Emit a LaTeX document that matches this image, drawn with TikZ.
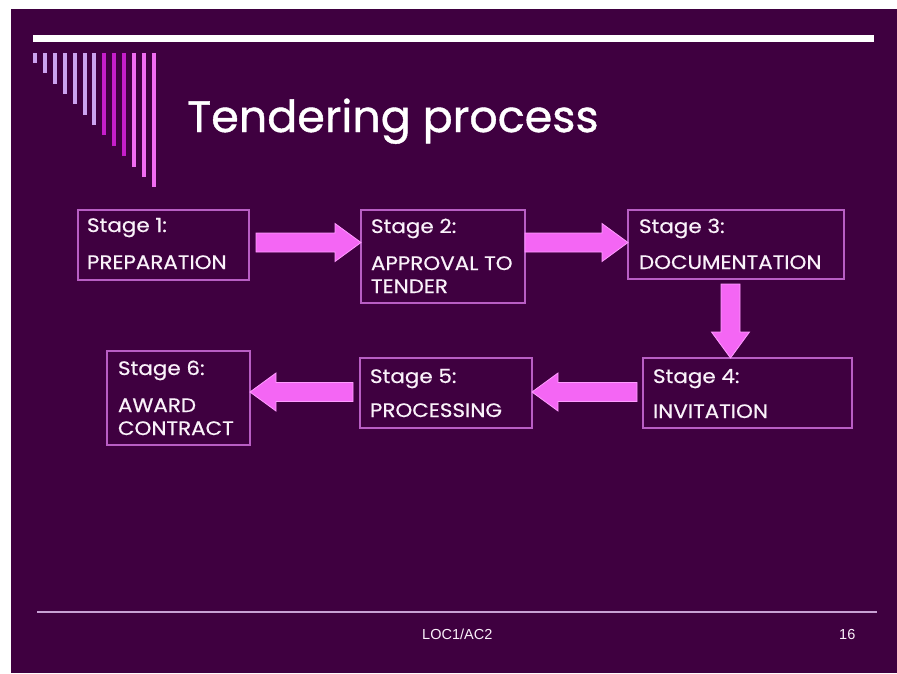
\documentclass[tikz,border=0pt]{standalone}
\usepackage{fontspec}
\usepackage{graphicx}
\setmainfont{Poppins}
\newfontfamily\boxfont{Poppins}[FakeBold=0.5]
\newfontfamily\titlefont{Poppins}[FakeBold=0.9]
\newfontfamily\footfont{Liberation Sans}
\usetikzlibrary{calc}
\definecolor{slidebg}{HTML}{3F0040}
\definecolor{lav}{HTML}{CBA3EF}
\definecolor{mag}{HTML}{C61ECA}
\definecolor{pnk}{HTML}{F26BF2}
\definecolor{boxline}{HTML}{B85EC4}
\definecolor{arrfill}{HTML}{F466F4}
\definecolor{arrline}{HTML}{FF9CFF}
\definecolor{txtcol}{HTML}{FAF2FA}
\definecolor{footline}{HTML}{C8A2D4}
\newcommand\wide[1]{\scalebox{1.1}[1]{#1}}
\tikzset{
  stagebox/.style={draw=boxline, line width=1.3pt, fill=none, inner sep=0pt, outer sep=0pt},
  txt/.style={text=txtcol, inner sep=0pt, outer sep=0pt, anchor=base west, font=\boxfont\fontsize{19.5}{22}\selectfont},
  arrowshape/.style={fill=arrfill, draw=arrline, line width=0.8pt, line join=miter},
  foot/.style={text=txtcol, inner sep=0pt, anchor=base west, font=\footfont\fontsize{14.5}{17}\selectfont}
}
% block arrow from #1 to #2 : shaft half-width 9.5, head half-width 19, head length 26
\newcommand\blockarr[2]{%
  \draw[arrowshape] let \p1=(#1), \p2=(#2),
    \n1={veclen(\x2-\x1,\y2-\y1)}, \n2={atan2(\y2-\y1,\x2-\x1)} in
    ($(\p1)+(\n2-90:9.5pt)$) --
    ($(\p1)+(\n2:\n1-26pt)+(\n2-90:9.5pt)$) --
    ($(\p1)+(\n2:\n1-26pt)+(\n2-90:19pt)$) --
    (\p2) --
    ($(\p1)+(\n2:\n1-26pt)+(\n2+90:19pt)$) --
    ($(\p1)+(\n2:\n1-26pt)+(\n2+90:9.5pt)$) --
    ($(\p1)+(\n2+90:9.5pt)$) -- cycle;}
\begin{document}
\begin{tikzpicture}[x=1pt,y=-1pt]
\useasboundingbox (0,0) rectangle (897,673);
\fill[white] (0,0) rectangle (897,673);
\fill[slidebg] (11,9) rectangle (897,673);
% top bar
\fill[white] (33,35) rectangle (874,42);
% stripes
\foreach \i/\c in {0/lav,1/lav,2/lav,3/lav,4/lav,5/lav,6/lav,7/mag,8/mag,9/mag,10/pnk,11/pnk,12/pnk}{
  \fill[\c] ({33+9.9*\i},53) rectangle ({37+9.9*\i},{63+10.35*\i});
}
% title
\node[text=white, inner sep=0pt, anchor=base west, font=\titlefont\fontsize{44}{50}\selectfont] (title) at (187,132) {\scalebox{1.01}[1]{Tendering process}};
% boxes
\node[stagebox, minimum width=171pt, minimum height=70pt] (b1) at (163.5,245) {};
\node[stagebox, minimum width=164pt, minimum height=93pt] (b2) at (443,256.5) {};
\node[stagebox, minimum width=216pt, minimum height=69pt] (b3) at (736,244.5) {};
\node[stagebox, minimum width=209pt, minimum height=70pt] (b4) at (747.5,393) {};
\node[stagebox, minimum width=172pt, minimum height=70pt] (b5) at (446,393) {};
\node[stagebox, minimum width=143pt, minimum height=94pt] (b6) at (178.5,398) {};
% texts
\node[txt] (t1a) at (87,232) {\wide{Stage 1:}};
\node[txt] (t1b) at (87,269) {\wide{PREPARATION}};
\node[txt] (t2a) at (371,233) {\wide{Stage 2:}};
\node[txt] (t2b) at (371,270) {\wide{APPROVAL TO}};
\node[txt] (t2c) at (371,293) {\wide{TENDER}};
\node[txt] (t3a) at (639,233) {\wide{Stage 3:}};
\node[txt] (t3b) at (639,269) {\wide{DOCUMENTATION}};
\node[txt] (t4a) at (653,383) {\wide{Stage 4:}};
\node[txt] (t4b) at (653,418) {\wide{INVITATION}};
\node[txt] (t5a) at (370,383) {\wide{Stage 5:}};
\node[txt] (t5b) at (370,417) {\wide{PROCESSING}};
\node[txt] (t6a) at (118,375) {\wide{Stage 6:}};
\node[txt] (t6b) at (118,412) {\wide{AWARD}};
\node[txt] (t6c) at (118,435) {\wide{CONTRACT}};
% arrows
\coordinate (a1s) at ($(b1.east)+(7,-2.5)$);
\coordinate (a1e) at (b2.west |- a1s);
\coordinate (a2s) at (b2.east |- a1s);
\coordinate (a2e) at (b3.west |- a1s);
\coordinate (a3s) at ($(b3.south)+(-5.5,5)$);
\coordinate (a3e) at (b4.north -| a3s);
\coordinate (a4s) at ($(b4.west)+(-6,-1)$);
\coordinate (a4e) at (b5.east |- a4s);
\coordinate (a5s) at ($(b5.west)+(-7,-1)$);
\coordinate (a5e) at (b6.east |- a5s);
\blockarr{a1s}{a1e}
\blockarr{a2s}{a2e}
\blockarr{a3s}{a3e}
\blockarr{a4s}{a4e}
\blockarr{a5s}{a5e}
% footer
\coordinate (fl) at (37,612);
\coordinate (fr) at (877,612);
\draw[footline, line width=1.5pt] (fl) -- (fr);
\node[foot] (f1) at (422,639) {LOC1/AC2};
\node[foot] (f2) at (839,639) {16};
\end{tikzpicture}
\end{document}
